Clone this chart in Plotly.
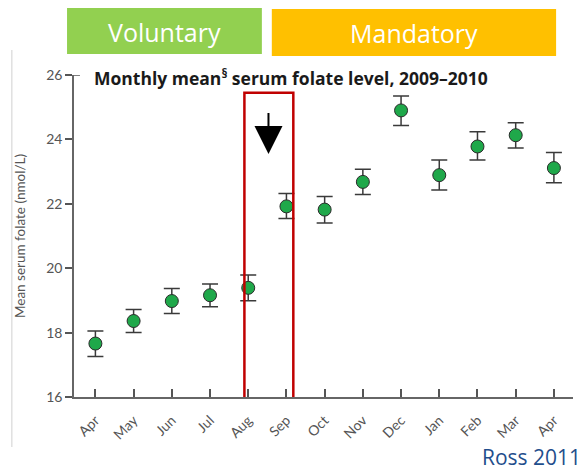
import plotly.graph_objects as go

# monthly mean serum folate (nmol/L), Apr 2009 - Apr 2010
months = ["Apr", "May", "Jun", "Jul", "Aug", "Sep", "Oct", "Nov", "Dec", "Jan", "Feb", "Mar", "Apr"]
folate_mean = [17.66, 18.36, 18.98, 19.16, 19.39, 21.92, 21.82, 22.68, 24.90, 22.89, 23.78, 24.13, 23.11]
err_upper = [0.39, 0.36, 0.39, 0.35, 0.40, 0.40, 0.41, 0.39, 0.45, 0.47, 0.46, 0.39, 0.48]
err_lower = [0.40, 0.36, 0.39, 0.36, 0.40, 0.38, 0.42, 0.39, 0.47, 0.46, 0.42, 0.40, 0.46]
y_ticks = [16, 18, 20, 22, 24, 26]

# the page has an 8px body margin, so the figure is 8px smaller than the window
OFF = 8
W, H = 585 - OFF, 471 - OFF
L, R, T, B = 63, 12, 67, 74
x_idx = list(range(len(months)))


def px(x):
    # window pixel -> paper x
    return (x - OFF - L) / (W - L - R)


def py(y):
    return (H - B - (y - OFF)) / (H - T - B)


fig = go.Figure()
fig.add_trace(go.Scatter(
    x=x_idx, y=folate_mean, mode="markers",
    marker=dict(size=13, color="#1fa84a", line=dict(color="#2b2b2b", width=1)),
    error_y=dict(type="data", symmetric=False, array=err_upper, arrayminus=err_lower,
                 color="#3a3a3a", thickness=1.5, width=8),
    showlegend=False,
))

# the Voluntary / Mandatory banners
fig.add_shape(type="rect", xref="paper", yref="paper", x0=px(64), x1=px(260), y0=py(54), y1=py(8),
              fillcolor="#92d050", line=dict(width=0), layer="below")
fig.add_shape(type="rect", xref="paper", yref="paper", x0=px(270), x1=px(556), y0=py(56), y1=py(9),
              fillcolor="#ffc000", line=dict(width=0), layer="below")
fig.add_annotation(text="Voluntary", xref="paper", yref="paper", x=px(162), y=py(32),
                   xanchor="center", yanchor="middle",
                   showarrow=False, font=dict(family="Open Sans", size=25, color="white"))
fig.add_annotation(text="Mandatory", xref="paper", yref="paper", x=px(413), y=py(33),
                   xanchor="center", yanchor="middle",
                   showarrow=False, font=dict(family="Open Sans", size=25, color="white"))

# chart title
fig.add_annotation(text="<b>Monthly mean<sup>§</sup> serum folate level, 2009–2010</b>",
                   xref="paper", yref="paper", x=px(89), y=py(78), xanchor="left", yanchor="middle",
                   showarrow=False, font=dict(family="Open Sans", size=17.5, color="#1a1a1a"))

# red highlight box around Aug/Sep and the arrow
fig.add_shape(type="rect", xref="x", yref="y", x0=3.9, x1=5.18, y0=15.95, y1=25.45,
              line=dict(color="#c00000", width=2.5))
fig.add_annotation(x=4.53, y=23.55, ax=4.53, ay=24.87, xref="x", yref="y", axref="x", ayref="y",
                   text="", showarrow=True, arrowhead=2, arrowsize=2.8, arrowwidth=2, arrowcolor="black")

# small corner tick at the top of the y axis
fig.add_shape(type="line", xref="paper", yref="y", x0=px(70.7), x1=px(77), y0=26, y1=26,
              line=dict(color="#555", width=1.5))

# border line of the pasted image on the left
fig.add_shape(type="line", xref="paper", yref="paper", x0=px(8.5), x1=px(8.5), y0=py(50), y1=py(447),
              line=dict(color="#d0d0d0", width=1))

fig.add_annotation(text="Ross 2011", xref="paper", yref="paper", x=px(583), y=py(457),
                   xanchor="right", yanchor="middle", showarrow=False,
                   font=dict(family="Open Sans", size=21, color="#1f4e8c"))

fig.update_layout(
    width=W, height=H,
    margin=dict(l=L, r=R, t=T, b=B),
    plot_bgcolor="white", paper_bgcolor="white",
    font=dict(family="Lato", color="#555"),
    xaxis=dict(range=[-0.56, 12.5], tickmode="array", tickvals=x_idx, ticktext=months,
               tickangle=-45, ticks="inside", ticklen=8, tickcolor="#555", tickwidth=1.5,
               ticklabelstandoff=8,
               showline=True, linecolor="#666", linewidth=1.5, showgrid=False, zeroline=False,
               tickfont=dict(size=14, color="#555")),
    yaxis=dict(range=[16, 26], tickvals=y_ticks, ticks="outside", ticklen=7, tickcolor="#555",
               tickwidth=1.5, showline=True, linecolor="#666", linewidth=1.5, showgrid=False,
               zeroline=False, tickfont=dict(size=14, color="#555"),
               title=dict(text="Mean serum folate (nmol/L)", font=dict(size=13.5, color="#555"), standoff=17)),
)

fig.write_html("out.html")
